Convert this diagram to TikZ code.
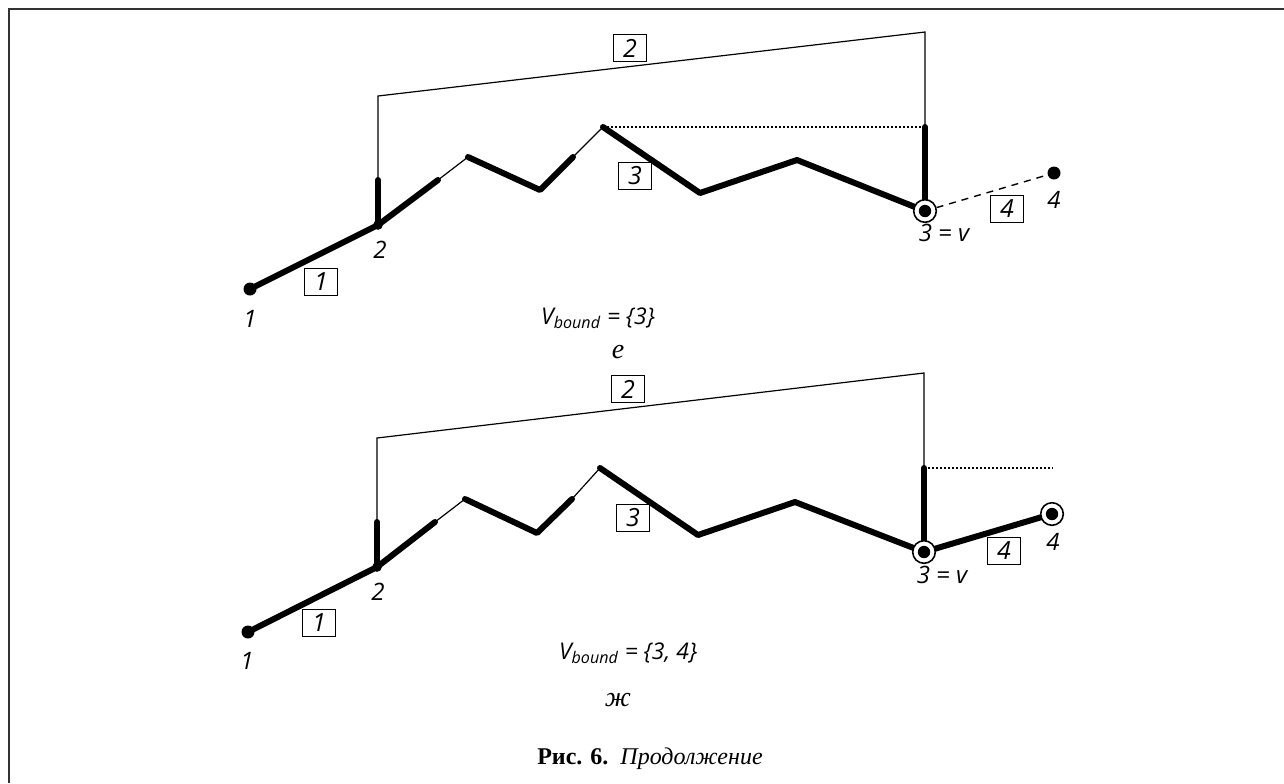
\documentclass[tikz,border=0pt]{standalone}
\usepackage{fontspec}
\setmainfont{Liberation Serif}
\newfontfamily\lblfont{Open Sans}
\begin{document}
\begin{tikzpicture}[x=0.5pt,y=-0.5pt,
  thk/.style={line width=3pt,line cap=round,line join=round},
  thn/.style={line width=0.6pt},
  dotln/.style={line width=0.7pt,dash pattern=on 1pt off 1pt},
  dashln/.style={line width=0.7pt,dash pattern=on 3.5pt off 3pt},
  lbl/.style={font=\lblfont\itshape\fontsize{12}{14}\selectfont,inner sep=0pt},
  numbox/.style={draw,line width=0.6pt,font=\lblfont\itshape\fontsize{12.5}{14}\selectfont,minimum width=16.5pt,minimum height=13.5pt,inner sep=0pt,fill=white},
  dot/.style={circle,fill=black,inner sep=0pt,minimum size=6.5pt},
  smalldot/.style={circle,fill=black,inner sep=0pt,minimum size=4.8pt},
  ring/.style={circle,draw=black,line width=0.8pt,fill=white,inner sep=0pt,minimum size=11.3pt,
    path picture={\fill[black] (path picture bounding box.center) circle[radius=3.1pt];}},
  formula/.style={font=\lblfont\itshape\fontsize{11.5}{13}\selectfont,inner sep=0pt},
  sublbl/.style={font=\itshape\fontsize{14}{16}\selectfont,inner sep=0pt}
]
\useasboundingbox (0,0) rectangle (1284,783);
\draw[line width=1pt,black!80] (9,783) -- (9,9) -- (1284,9);

% ---------- panel e ----------
\coordinate (p1) at (438,180);
\coordinate (p2) at (468,157);
\coordinate (p3) at (540,190);
\coordinate (p4) at (573,157);
\coordinate (p5) at (603,127);
\coordinate (p6) at (700,193);
\coordinate (p7) at (797,160);
\coordinate (b1) at (378,180);
\coordinate (b2) at (378,96);
\coordinate (b3) at (925,32);
\coordinate (b4) at (925,127);
\node[dot] (n1) at (250,289) {};
\node[smalldot] (n2) at (378,225) {};
\node[dot] (n4) at (1054,173) {};
\coordinate (n3c) at (925,211);

\draw[thn] (b1) -- (b2) -- (b3) -- (b4);
\draw[dotln] (p5) -- (b4);
\draw[thk] (n1.center) -- (n2.center) -- (p1);
\draw[thk] (n2.center) -- (b1);
\draw[thn] (p1) -- (p2);
\draw[thk] (p2) -- (p3) -- (p4);
\draw[thn] (p4) -- (p5);
\draw[thk] (p5) -- (p6) -- (p7) -- (n3c);
\draw[thk] (b4) -- (n3c);
\node[ring] (n3) at (n3c) {};
\draw[dashln] (n3) -- (n4);

\node[lbl] (l1) at (250,319) {1};
\node[lbl] (l2) at (380,250) {2};
\node[lbl] (l3) at (944,233) {3 = v};
\node[lbl] (l4) at (1054,200) {4};
\node[numbox] (k1) at (321,282) {1};
\node[numbox] (k2) at (630,48) {2};
\node[numbox] (k3) at (635,176) {3};
\node[numbox] (k4) at (1007,209) {4};
\node[formula] (f1) at (598,318) {V\textsubscript{bound} = \{3\}};
\node[sublbl] (s1) at (618,352) {е};

% ---------- panel zh ----------
\coordinate (q1) at (435,522);
\coordinate (q2) at (465,499);
\coordinate (q3) at (537,533);
\coordinate (q4) at (572,499);
\coordinate (q5) at (600,468);
\coordinate (q6) at (698,535);
\coordinate (q7) at (795,502);
\coordinate (c1) at (377,522);
\coordinate (c2) at (377,438);
\coordinate (c3) at (924,373);
\coordinate (c4) at (924,468);
\coordinate (c5) at (1053,468);
\node[dot] (m1) at (248,632) {};
\node[smalldot] (m2) at (377,567) {};
\coordinate (m3c) at (924,552);
\coordinate (m4c) at (1052,514);

\draw[thn] (c1) -- (c2) -- (c3) -- (c4);
\draw[dotln] (c4) -- (c5);
\draw[thk] (m1.center) -- (m2.center) -- (q1);
\draw[thk] (m2.center) -- (c1);
\draw[thn] (q1) -- (q2);
\draw[thk] (q2) -- (q3) -- (q4);
\draw[thn] (q4) -- (q5);
\draw[thk] (q5) -- (q6) -- (q7) -- (m3c);
\draw[thk] (c4) -- (m3c);
\draw[thk] (m3c) -- (m4c);
\node[ring] (m3) at (m3c) {};
\node[ring] (m4) at (m4c) {};

\node[lbl] (r1) at (247,661) {1};
\node[lbl] (r2) at (378,592) {2};
\node[lbl] (r3) at (942,575) {3 = v};
\node[lbl] (r4) at (1053,542) {4};
\node[numbox] (h1) at (319,623) {1};
\node[numbox] (h2) at (628,389) {2};
\node[numbox] (h3) at (633,518) {3};
\node[numbox] (h4) at (1004,551) {4};
\node[formula] (f2) at (628,653) {V\textsubscript{bound} = \{3, 4\}};
\node[sublbl] (s2) at (618,700) {ж};

\node[font=\fontsize{12}{14}\selectfont,inner sep=0pt] (cap) at (650,759) {\textbf{Рис. 6.}\ \ \textit{Продолжение}};
\end{tikzpicture}
\end{document}
